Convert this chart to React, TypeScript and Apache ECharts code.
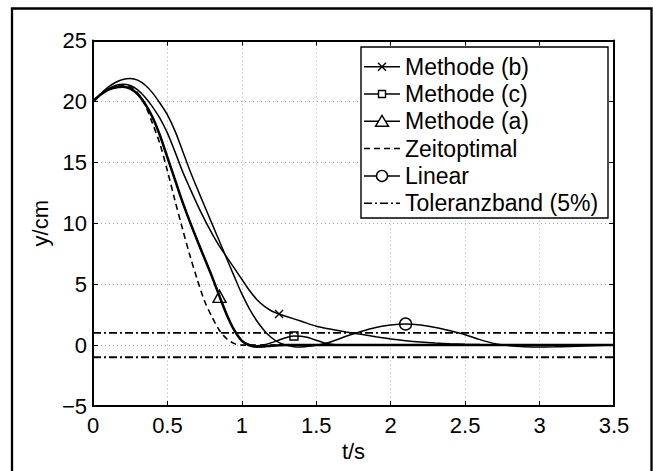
import React, { useEffect, useRef } from "react";
import * as echarts from "echarts";

// ---- Data ----
const tB = [0, 0.05, 0.1, 0.15, 0.2, 0.25, 0.3, 0.35, 0.4, 0.45, 0.5, 0.55, 0.6, 0.65, 0.7, 0.75, 0.8, 0.85, 0.9, 0.95, 1.0, 1.05, 1.1, 1.15, 1.2, 1.25, 1.3, 1.4, 1.5, 1.6, 1.7, 1.8, 1.9, 2.0, 2.1, 2.2, 2.3, 2.4, 2.5, 2.6, 2.8, 3.0, 3.5];
const yB = [20, 20.55, 21.0, 21.3, 21.4, 21.3, 20.95, 20.35, 19.55, 18.6, 17.4, 15.9, 14.3, 12.9, 11.55, 10.3, 9.15, 8.1, 7.2, 6.3, 5.4, 4.5, 3.75, 3.2, 2.8, 2.55, 2.35, 1.95, 1.55, 1.3, 1.08, 0.88, 0.68, 0.5, 0.36, 0.25, 0.17, 0.11, 0.07, 0.04, 0.01, 0, 0];

const tC = [0, 0.05, 0.1, 0.15, 0.2, 0.25, 0.3, 0.35, 0.4, 0.45, 0.5, 0.55, 0.6, 0.65, 0.7, 0.75, 0.8, 0.85, 0.9, 0.95, 1.0, 1.05, 1.1, 1.15, 1.2, 1.25, 1.3, 1.35, 1.4, 1.45, 1.5, 1.55, 1.6, 1.65, 3.5];
const yC = [20, 20.55, 20.95, 21.15, 21.2, 21.05, 20.6, 19.8, 18.7, 17.2, 15.4, 13.6, 11.8, 10.15, 8.6, 7.1, 5.6, 4.0, 2.45, 1.2, 0.35, 0.05, -0.05, 0.02, 0.2, 0.42, 0.62, 0.74, 0.73, 0.6, 0.4, 0.2, 0.06, 0, 0];

const tA = [0, 0.05, 0.1, 0.15, 0.2, 0.25, 0.3, 0.35, 0.4, 0.45, 0.5, 0.55, 0.6, 0.65, 0.7, 0.75, 0.8, 0.85, 0.9, 0.95, 1.0, 1.05, 1.1, 1.15, 1.2, 1.3, 3.5];
const yA = [20, 20.55, 20.95, 21.15, 21.2, 21.05, 20.6, 19.8, 18.7, 17.2, 15.4, 13.6, 11.8, 10.15, 8.6, 7.1, 5.6, 4.0, 2.45, 1.2, 0.35, -0.02, -0.13, -0.12, -0.05, 0, 0];

const tZ = [0, 0.05, 0.1, 0.15, 0.2, 0.25, 0.3, 0.35, 0.4, 0.45, 0.5, 0.55, 0.6, 0.65, 0.7, 0.75, 0.8, 0.85, 0.9, 0.95, 1.0, 3.5];
const yZ = [20, 20.55, 20.95, 21.2, 21.3, 21.2, 20.7, 19.7, 18.2, 16.5, 14.3, 11.9, 9.6, 7.4, 5.4, 3.6, 2.3, 1.2, 0.5, 0.12, 0, 0];

const tL = [0, 0.05, 0.1, 0.15, 0.2, 0.25, 0.3, 0.35, 0.4, 0.45, 0.5, 0.55, 0.6, 0.65, 0.7, 0.75, 0.8, 0.85, 0.9, 0.95, 1.0, 1.05, 1.1, 1.15, 1.2, 1.25, 1.3, 1.35, 1.4, 1.45, 1.5, 1.55, 1.6, 1.7, 1.8, 1.9, 2.0, 2.1, 2.2, 2.3, 2.4, 2.5, 2.6, 2.7, 2.8, 2.9, 3.0, 3.1, 3.2, 3.3, 3.4, 3.5];
const yL = [20, 20.6, 21.15, 21.55, 21.8, 21.88, 21.75, 21.35, 20.7, 19.85, 18.9, 17.6, 16.0, 14.35, 12.85, 11.4, 9.95, 8.5, 7.05, 5.6, 4.2, 3.0, 2.0, 1.2, 0.6, 0.2, -0.02, -0.13, -0.15, -0.1, 0, 0.12, 0.28, 0.72, 1.12, 1.45, 1.65, 1.73, 1.65, 1.45, 1.17, 0.85, 0.45, 0.12, -0.05, -0.13, -0.15, -0.14, -0.11, -0.07, -0.03, 0];

const tTol = [0, 3.5];
const yTolUpper = [1, 1];
const yTolLower = [-1, -1];

// single marker per curve
const markB = [1.25, 2.55];
const markC = [1.35, 0.74];
const markA = [0.85, 4.0];
const markL = [2.1, 1.73];

const legendNames = ["Methode (b)", "Methode (c)", "Methode (a)", "Zeitoptimal", "Linear", "Toleranzband (5%)"];
const xTicks = { min: 0, max: 3.5, interval: 0.5 };
const yTicks = { min: -5, max: 25, interval: 5 };

const FONT = '"Liberation Sans", Arial, Helvetica, sans-serif';

export default function App() {
  const ref = useRef<HTMLDivElement>(null);

  useEffect(() => {
    if (!ref.current) return;
    const chart = echarts.init(ref.current, null, { renderer: "svg" });
    const pair = (t: number[], y: number[]) => t.map((v, i) => [v, y[i]]);

    const line = (name: string, t: number[], y: number[], width: number, type: any = "solid", smooth: any = 0.3) => ({
      type: "line",
      name,
      data: pair(t, y),
      showSymbol: false,
      symbol: "none",
      smooth,
      silent: true,
      lineStyle: { color: "#000", width, type },
      z: 3,
    });

    const marker = (name: string, m: number[], symbol: string, size: any) => ({
      type: "scatter",
      name,
      data: [m],
      symbol,
      symbolSize: size,
      silent: true,
      itemStyle: { color: "rgba(0,0,0,0)", borderColor: "#000", borderWidth: 1.4, opacity: 1 },
      z: 5,
    });

    const dashDot = [8, 3, 2, 3];

    // legend via graphic
    const lx1 = 364, lx2 = 400, lxc = 382, tx = 405;
    const row0 = 66.7, rowH = 27.3;
    const g: any[] = [
      {
        type: "rect",
        z: 100,
        shape: { x: 12, y: 8.5, width: 639.5, height: 480 },
        style: { fill: "none", stroke: "#000", lineWidth: 2.3 },
      },
      {
        type: "rect",
        z: 100,
        shape: { x: 361, y: 47, width: 247, height: 171 },
        style: { fill: "#fff", stroke: "#000", lineWidth: 1.4 },
      },
    ];
    legendNames.forEach((name, i) => {
      const cy = row0 + i * rowH;
      let dash: any = null;
      if (i === 3) dash = [6, 4];
      if (i === 5) dash = dashDot;
      g.push({
        type: "line",
        z: 101,
        shape: { x1: lx1, y1: cy, x2: lx2, y2: cy },
        style: { stroke: "#000", lineWidth: 1.5, lineDash: dash },
      });
      g.push({
        type: "text",
        z: 101,
        x: tx,
        y: cy,
        style: { text: name, fill: "#000", fontSize: 23, fontFamily: FONT, verticalAlign: "middle", align: "left" },
      });
      const ms = { stroke: "#000", lineWidth: 1.4, fill: "#fff" };
      if (i === 0) {
        g.push({ type: "line", z: 102, shape: { x1: lxc - 4, y1: cy - 4, x2: lxc + 4, y2: cy + 4 }, style: ms });
        g.push({ type: "line", z: 102, shape: { x1: lxc - 4, y1: cy + 4, x2: lxc + 4, y2: cy - 4 }, style: ms });
      } else if (i === 1) {
        g.push({ type: "rect", z: 102, shape: { x: lxc - 3.5, y: cy - 3.5, width: 7, height: 7 }, style: ms });
      } else if (i === 2) {
        g.push({ type: "polygon", z: 102, shape: { points: [[lxc, cy - 6], [lxc + 6.5, cy + 5], [lxc - 6.5, cy + 5]] }, style: ms });
      } else if (i === 4) {
        g.push({ type: "circle", z: 102, shape: { cx: lxc, cy, r: 5.5 }, style: ms });
      }
    });

    const axisCommon = {
      type: "value",
      axisLine: { show: true, onZero: false, lineStyle: { color: "#000", width: 2 } },
      axisTick: { show: true, inside: true, length: 5, lineStyle: { color: "#000", width: 1 } },
    };

    const fmt = (v: number) => (v < 0 ? "\u2212" + Math.abs(v) : String(v));

    chart.setOption({
      animation: false,
      backgroundColor: "#fff",
      textStyle: { fontFamily: FONT },
      grid: { left: 93, right: 39, top: 40.5, bottom: 65, containLabel: false, outerBoundsMode: "none" },
      xAxis: [
        {
          ...axisCommon,
          position: "bottom",
          ...xTicks,
          name: "t/s",
          nameLocation: "middle",
          nameGap: 31,
          nameTextStyle: { fontSize: 22, color: "#000", fontFamily: FONT },
          axisLabel: { fontSize: 22, color: "#000", fontFamily: FONT, margin: 8, formatter: fmt },
          splitLine: { show: true, lineStyle: { color: "#aaa", width: 1, type: [1, 3] } },
        },
        {
          ...axisCommon,
          position: "top",
          ...xTicks,
          axisLabel: { show: false },
          splitLine: { show: false },
        },
      ],
      yAxis: [
        {
          ...axisCommon,
          position: "left",
          ...yTicks,
          name: "y/cm",
          nameLocation: "middle",
          nameGap: 34,
          nameTextStyle: { fontSize: 22, color: "#000", fontFamily: FONT },
          axisLabel: { fontSize: 22, color: "#000", fontFamily: FONT, margin: 6, formatter: fmt },
          splitLine: { show: true, lineStyle: { color: "#aaa", width: 1, type: [1, 3] } },
        },
        {
          ...axisCommon,
          position: "right",
          ...yTicks,
          axisLabel: { show: false },
          splitLine: { show: false },
        },
      ],
      series: [
        line("Toleranzband (5%)", tTol, yTolUpper, 1.8, dashDot, false),
        line("Toleranzband (5%)", tTol, yTolLower, 1.8, dashDot, false),
        line("Zeitoptimal", tZ, yZ, 1.6, [6, 4]),
        line("Methode (a)", tA, yA, 2.5),
        line("Methode (c)", tC, yC, 1.5),
        line("Methode (b)", tB, yB, 1.5),
        line("Linear", tL, yL, 1.5),
        marker("Methode (b)", markB, "path://M0,0L10,10M10,0L0,10", 8),
        marker("Methode (c)", markC, "rect", 8),
        marker("Methode (a)", markA, "triangle", [13, 12]),
        marker("Linear", markL, "circle", 12),
      ],
      graphic: g,
    });

    return () => chart.dispose();
  }, []);

  return <div ref={ref} style={{ position: "absolute", left: 0, top: 0, width: 653, height: 471 }} />;
}
